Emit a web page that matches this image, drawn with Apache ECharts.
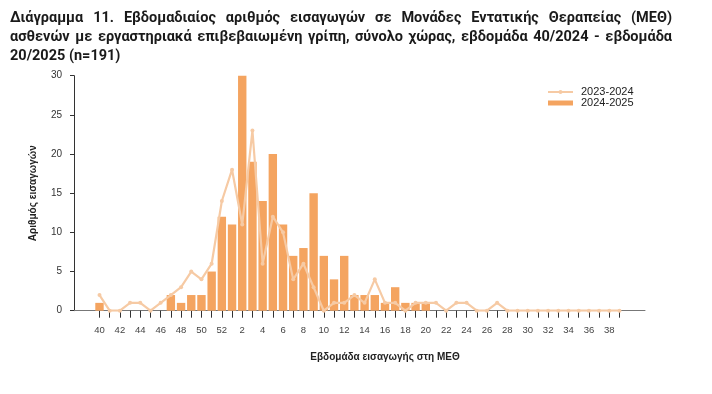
<!DOCTYPE html>
<html>
<head>
<meta charset="utf-8">
<script src="https://cdn.jsdelivr.net/npm/echarts@6/dist/echarts.min.js"></script>
<style>
html,body{margin:0;padding:0;background:#fff;}
#chart{width:712px;height:394px;}
</style>
</head>
<body>
<div id="chart"></div>
<script>
// ---- Data ----
const titleLines = [
  'Διάγραμμα 11. Εβδομαδιαίος αριθμός εισαγωγών σε Μονάδες Εντατικής Θεραπείας (ΜΕΘ)',
  'ασθενών με εργαστηριακά επιβεβαιωμένη γρίπη, σύνολο χώρας, εβδομάδα 40/2024 - εβδομάδα',
  '20/2025 (n=191)'
];
const xAxisName = 'Εβδομάδα εισαγωγής στη ΜΕΘ';
const yAxisName = 'Αριθμός εισαγωγών';
const seriesNames = ['2023-2024', '2024-2025'];

const weeks = ['40','41','42','43','44','45','46','47','48','49','50','51','52',
  '1','2','3','4','5','6','7','8','9','10','11','12','13','14','15','16','17','18','19','20',
  '21','22','23','24','25','26','27','28','29','30','31','32','33','34','35','36','37','38','39'];

const tickLabels = ['40','42','44','46','48','50','52','2','4','6','8','10','12','14','16','18','20',
  '22','24','26','28','30','32','34','36','38'];

const season2324 = [2,0,0,1,1,0,1,2,3,5,4,6,14,
  18,11,23,6,12,10,4,6,3,0,1,1,2,1,4,1,1,0,1,1,
  1,0,1,1,0,0,1,0,0,0,0,0,0,0,0,0,0,0,0];

const season2425 = [1,0,0,0,0,0,0,2,1,2,2,5,12,
  11,30,19,14,20,11,7,8,15,7,4,7,2,2,2,1,3,1,1,1,
  null,null,null,null,null,null,null,null,null,null,null,null,null,null,null,null,null,null,null];

// ---- Build padded category axis (empty slots at both ends) ----
const PAD = ['\u2002', '\u2003'];
const PAD_END = ['\u2004', '\u2005'];
const axisCats = PAD.concat(weeks, PAD_END);
const padVals = arr => [null, null].concat(arr, [null, null]);
const isReal = v => weeks.indexOf(v) !== -1;

// ---- Title (justified, like the source document) ----
function buildTitle() {
  const fam = 'Roboto';
  const size = 14.5;
  const ctx = document.createElement('canvas').getContext('2d');
  ctx.font = 'bold ' + size + 'px ' + fam;
  const left = 10, right = 672, W = right - left;
  let scale = 1;
  [0, 1].forEach(i => {
    const nat = ctx.measureText(titleLines[i]).width;
    if (nat + 8 > W) scale = Math.min(scale, W / (nat + 8));
  });
  const els = [];
  titleLines.forEach((line, li) => {
    const y = 18 + li * 19;
    const words = line.split(' ');
    const children = [];
    if (li < 2) {
      const ws = words.map(w => ctx.measureText(w).width);
      const sum = ws.reduce((a, b) => a + b, 0);
      const gap = (W / scale - sum) / (words.length - 1);
      let x = 0;
      words.forEach((w, k) => {
        children.push({type: 'text', x: x, y: 0,
          style: {text: w, fontFamily: fam, fontWeight: 'bold', fontSize: size, fill: '#1a1a1a', verticalAlign: 'middle', align: 'left'}});
        x += ws[k] + gap;
      });
    } else {
      children.push({type: 'text', x: 0, y: 0,
        style: {text: line, fontFamily: fam, fontWeight: 'bold', fontSize: size, fill: '#1a1a1a', verticalAlign: 'middle', align: 'left'}});
    }
    els.push({type: 'group', x: left, y: y, scaleX: scale, children: children});
  });
  return els;
}

const chart = echarts.init(document.getElementById('chart'), null, {renderer: 'canvas'});
const axisFont = 'Liberation Sans';

chart.setOption({
  animation: false,
  backgroundColor: '#fff',
  grid: {left: 74, right: 67, top: 75.7, bottom: 83.3, containLabel: false},
  legend: {
    orient: 'vertical', left: 547, top: 86.5, padding: 0,
    itemWidth: 25, itemHeight: 5, itemGap: 0,
    textStyle: {fontFamily: axisFont, fontSize: 11, color: '#222', lineHeight: 11, padding: [0, 0, 0, 3]},
    data: [{name: seriesNames[0]}, {name: seriesNames[1], icon: 'rect'}]
  },
  xAxis: {
    type: 'category',
    data: axisCats,
    boundaryGap: true,
    axisLine: {show: true, lineStyle: {color: '#777', width: 1}},
    axisTick: {show: true, alignWithLabel: true, length: 7,
      interval: (i, v) => isReal(v),
      lineStyle: {color: '#333', width: 1}},
    axisLabel: {
      interval: (i, v) => tickLabels.indexOf(v) !== -1,
      fontFamily: axisFont, fontSize: 9.5, color: '#444', margin: 15
    },
    splitLine: {show: false}
  },
  yAxis: {
    type: 'value', min: 0, max: 30, interval: 5,
    name: yAxisName, nameLocation: 'middle', nameGap: 36, nameRotate: 90,
    nameTextStyle: {fontFamily: axisFont, fontSize: 10, fontWeight: 'bold', color: '#222'},
    axisLine: {show: true, lineStyle: {color: '#333', width: 1}},
    axisTick: {show: true, length: 4, lineStyle: {color: '#333'}},
    axisLabel: {fontFamily: axisFont, fontSize: 10, color: '#333', margin: 12},
    splitLine: {show: false}
  },
  graphic: buildTitle().concat([{
    type: 'text', x: 385, y: 357,
    style: {text: xAxisName, fontFamily: axisFont, fontSize: 10, fontWeight: 'bold', fill: '#222', align: 'center', verticalAlign: 'middle'}
  }]),
  series: [
    {
      name: seriesNames[1], type: 'bar', data: padVals(season2425),
      barWidth: 8.4, itemStyle: {color: '#F4A460'}, z: 2
    },
    {
      name: seriesNames[0], type: 'line', data: padVals(season2324),
      smooth: false, connectNulls: false,
      symbol: 'circle', symbolSize: 4, showSymbol: true,
      lineStyle: {color: '#F6CAA4', width: 2.2},
      itemStyle: {color: '#F6CAA4'}, z: 3
    }
  ]
});
</script>
</body>
</html>
